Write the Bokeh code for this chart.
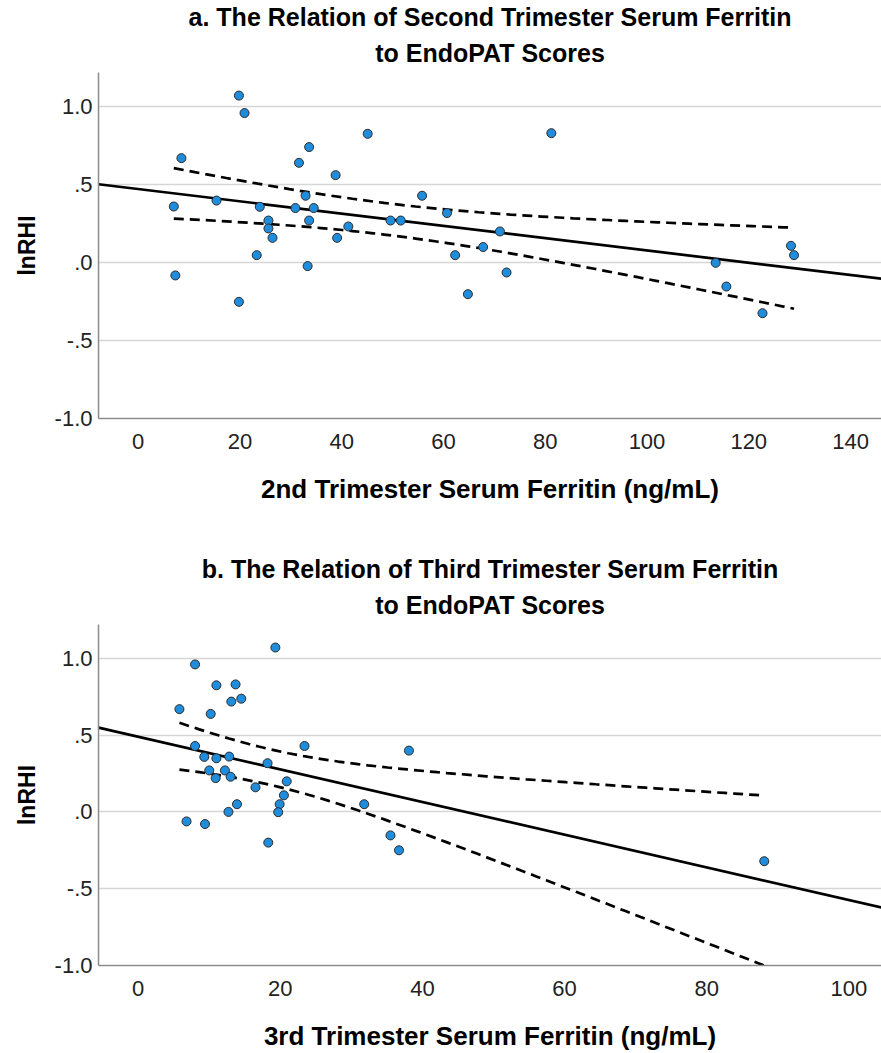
import math
import numpy as np
from bokeh.plotting import figure
from bokeh.layouts import column
from bokeh.models import FixedTicker, Range1d, Title
from bokeh.embed import file_html
from bokeh.resources import INLINE

# ---------------- data ----------------
# Panel a: second trimester serum ferritin (ng/mL) vs lnRHI
ferritin_2nd = [19.8, 20.9, 8.5, 7.0, 7.3, 15.4, 19.8, 23.3, 23.9, 25.6,
                25.6, 26.4, 31.6, 30.9, 32.9, 33.6, 34.5, 33.6, 33.3, 38.8,
                39.1, 41.3, 45.1, 49.6, 51.6, 55.8, 60.7, 62.3, 64.8, 67.8,
                71.1, 72.4, 81.2, 113.5, 115.6, 122.7, 128.3, 128.9]
lnrhi_2nd = [1.07, 0.958, 0.669, 0.359, -0.083, 0.397, -0.252, 0.047, 0.357, 0.269,
             0.218, 0.158, 0.639, 0.349, 0.428, 0.74, 0.349, 0.269, -0.023, 0.56,
             0.158, 0.231, 0.825, 0.269, 0.269, 0.428, 0.317, 0.047, -0.203, 0.099,
             0.199, -0.064, 0.829, -0.002, -0.154, -0.325, 0.107, 0.047]

# Panel b: third trimester serum ferritin (ng/mL) vs lnRHI
ferritin_3rd = [19.3, 8.0, 11.0, 13.7, 13.1, 14.5, 5.8, 10.2, 8.0, 9.3,
                11.0, 12.8, 10.0, 12.2, 10.9, 13.0, 18.2, 23.4, 16.5, 20.9,
                20.5, 19.9, 19.7, 13.9, 12.7, 6.8, 9.4, 18.3, 31.8, 38.1,
                35.5, 36.7, 88.1]
lnrhi_3rd = [1.07, 0.96, 0.824, 0.83, 0.718, 0.737, 0.669, 0.638, 0.429, 0.358,
             0.349, 0.36, 0.27, 0.27, 0.22, 0.229, 0.317, 0.429, 0.16, 0.199,
             0.108, 0.05, -0.002, 0.05, 0.0, -0.062, -0.079, -0.2, 0.05, 0.399,
             -0.153, -0.25, -0.321]

y_tick_values = [-1.0, -0.5, 0.0, 0.5, 1.0]
y_tick_labels = ["-1.0", "-.5", ".0", ".5", "1.0"]
x_ticks_2nd = [0, 20, 40, 60, 80, 100, 120, 140]
x_ticks_3rd = [0, 20, 40, 60, 80, 100]

# two-sided 95% t critical values by residual degrees of freedom
T95 = {36: 2.028, 31: 2.040}

FONT = "Liberation Sans"
W = 881
FRAME_L, FRAME_R = 98, 881


def panel(xs, ys, x_rng, y_rng, height, frame_top, frame_bottom,
          xticks, title1, title2, xlabel):
    xs = np.asarray(xs, float)
    ys = np.asarray(ys, float)
    p = figure(width=W, height=height, output_backend="svg", toolbar_location=None,
               x_range=Range1d(*x_rng), y_range=Range1d(*y_rng),
               min_border_left=FRAME_L, min_border_right=W - FRAME_R,
               min_border_top=frame_top, min_border_bottom=height - frame_bottom)
    p.outline_line_color = None
    p.background_fill_color = "white"
    p.border_fill_color = "white"

    # titles (inner line first, outer line last)
    p.add_layout(Title(text=title2, align="center", text_font=FONT,
                       text_font_style="bold", text_font_size="25px",
                       text_color="black", standoff=12), "above")
    p.add_layout(Title(text=title1, align="center", text_font=FONT,
                       text_font_style="bold", text_font_size="25px",
                       text_color="black", standoff=0), "above")

    # axes
    for ax in (p.xaxis[0], p.yaxis[0]):
        ax.axis_line_color = "#8c8c8c"
        ax.axis_line_width = 1.5
        ax.major_tick_out = 0
        ax.major_tick_in = 0
        ax.minor_tick_out = 0
        ax.minor_tick_in = 0
        ax.major_label_text_font = FONT
        ax.major_label_text_font_size = "22px"
        ax.major_label_text_color = "#222222"
        ax.axis_label_text_font = FONT
        ax.axis_label_text_font_style = "bold"
        ax.axis_label_text_font_size = "26px"
        ax.axis_label_text_color = "black"
    p.xaxis.ticker = FixedTicker(ticks=xticks)
    p.xaxis.major_label_standoff = 15
    p.xaxis.axis_label = xlabel
    p.xaxis.axis_label_standoff = 22
    p.yaxis.ticker = FixedTicker(ticks=y_tick_values)
    p.yaxis.major_label_overrides = {v: s for v, s in zip(y_tick_values, y_tick_labels)}
    p.yaxis.major_label_standoff = 6
    p.yaxis.axis_label = "lnRHI"
    p.yaxis.axis_label_text_font_size = "23px"
    p.yaxis.axis_label_standoff = 12

    p.xgrid.visible = False
    p.ygrid.ticker = FixedTicker(ticks=[v for v in y_tick_values if v > y_rng[0]])
    p.ygrid.grid_line_color = "#d6d6d6"
    p.ygrid.grid_line_width = 1.5

    # fit line and 95% CI of the mean
    n = len(xs)
    b, a = np.polyfit(xs, ys, 1)
    resid = ys - (a + b * xs)
    s = math.sqrt(np.sum(resid ** 2) / (n - 2))
    xbar = xs.mean()
    sxx = np.sum((xs - xbar) ** 2)
    t = T95[n - 2]
    xl = np.array(x_rng)
    p.line(xl, a + b * xl, line_color="black", line_width=2.7)
    xc = np.linspace(xs.min(), xs.max(), 60)
    yc = a + b * xc
    half = t * s * np.sqrt(1.0 / n + (xc - xbar) ** 2 / sxx)
    for sign in (1, -1):
        p.line(xc, yc + sign * half, line_color="black", line_width=2.7,
               line_dash="10 6")

    p.scatter(xs, ys, size=9, fill_color="#1f8ddc", line_color="#2b2b2b",
              line_width=1)
    return p


p1 = panel(ferritin_2nd, lnrhi_2nd, (-7.80, 146.09), (-1.0, 1.218), 526, 72, 418,
           x_ticks_2nd, "a. The Relation of Second Trimester Serum Ferritin",
           "to EndoPAT Scores", "2nd Trimester Serum Ferritin (ng/mL)")
p2 = panel(ferritin_3rd, lnrhi_3rd, (-5.59, 104.6), (-1.0, 1.22), 527, 98, 441,
           x_ticks_3rd, "b. The Relation of Third Trimester Serum Ferritin",
           "to EndoPAT Scores", "3rd Trimester Serum Ferritin (ng/mL)")

layout = column(p1, p2, spacing=0)
open("out.html", "w").write(file_html(layout, INLINE))
